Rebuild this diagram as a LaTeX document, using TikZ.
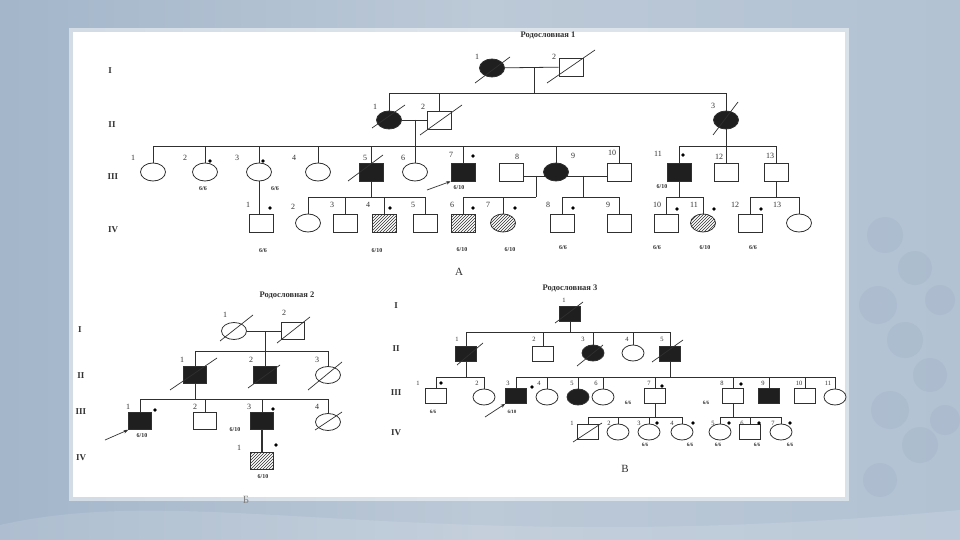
\documentclass[tikz,border=0pt]{standalone}
\usepackage{fontspec}
\setmainfont{Liberation Serif}
\usetikzlibrary{shapes.geometric,patterns,calc,arrows.meta}
\pgfdeclarelayer{back}
\pgfdeclarelayer{bg}
\pgfsetlayers{back,bg,main}
\definecolor{ink}{HTML}{303030}
\definecolor{bgl}{HTML}{A3B6CA}
\definecolor{bgm}{HTML}{BCC9D7}
\definecolor{bgr}{HTML}{B2C2D3}
\definecolor{sph}{HTML}{97A9BF}
\newcommand\strikeln[5]{\draw[strk] ($(#1)+(#2,#3)$) -- ($(#1)+(#4,#5)$);}
\tikzset{
 pers/.style={draw=ink, line width=0.8pt, fill=white, inner sep=0pt},
 ma/.style={pers, rectangle, minimum width=24pt, minimum height=18pt},
 fe/.style={pers, ellipse, minimum width=25pt, minimum height=18pt},
 aff/.style={fill=black!88},
 hat/.style={preaction={fill=white}, pattern=north east lines, pattern color=ink},
 num/.style={font=\fontsize{8}{8}\selectfont, text=ink, inner sep=0pt},
 gt/.style={font=\bfseries\fontsize{6}{6}\selectfont, text=ink, inner sep=0pt},
 gen/.style={font=\bfseries\fontsize{9}{9}\selectfont, text=ink, inner sep=0pt},
 ttl/.style={font=\bfseries\fontsize{8.5}{8.5}\selectfont, text=ink, inner sep=0pt},
 let/.style={font=\fontsize{11}{11}\selectfont, text=ink, inner sep=0pt},
 dotn/.style={circle, fill=black, inner sep=0pt, minimum size=3.6pt},
 rel/.style={draw=ink, line width=0.8pt},
 strk/.style={draw=ink, line width=0.7pt},
 prob/.style={draw=ink, line width=0.7pt, -{Stealth[length=4.5pt,width=3.5pt]}},
}
\begin{document}
\begin{tikzpicture}[x=1pt,y=-1pt]
\useasboundingbox (0,0) rectangle (960,540);
\begin{pgfonlayer}{back}
\shade[left color=bgl, right color=bgr, middle color=bgm] (0,0) rectangle (960,540);
\foreach \cx/\cy/\r in {885/235/18, 915/268/17, 878/305/19, 905/340/18, 930/375/17, 890/410/19, 920/445/18, 880/480/17, 940/300/15, 945/420/15}
  \fill[sph, opacity=0.22] (\cx,\cy) circle (\r);
\fill[white, opacity=0.12] (0,525) .. controls (200,480) and (420,560) .. (960,510) -- (960,540) -- (0,540) -- cycle;
\fill[white, opacity=0.5] (69,28) rectangle (849,501);
\fill[white] (73,32) rectangle (845,497);
\end{pgfonlayer}

% ================= Pedigree 1 =================
\node[ttl] (At) at (548,35) {Родословная 1};
\node[gen] (AgI) at (110,71) {I};
\node[gen] (AgII) at (112,125) {II};
\node[gen] (AgIII) at (113,177) {III};
\node[gen] (AgIV) at (113,230) {IV};

\node[fe,aff] (AI1) at (492,68) {};
\node[ma] (AI2) at (571,67) {};
\node[fe,aff] (AII1) at (389,120) {};
\node[ma] (AII2) at (439,120) {};
\node[fe,aff] (AII3) at (726,120) {};
\node[fe] (AIII1) at (153,172) {};
\node[fe] (AIII2) at (205,172) {};
\node[fe] (AIII3) at (259,172) {};
\node[fe] (AIII4) at (318,172) {};
\node[ma,aff] (AIII5) at (371,172) {};
\node[fe] (AIII6) at (415,172) {};
\node[ma,aff] (AIII7) at (463,172) {};
\node[ma] (AIII8) at (511,172) {};
\node[fe,aff] (AIII9) at (556,172) {};
\node[ma] (AIII10) at (619,172) {};
\node[ma,aff] (AIII11) at (679,172) {};
\node[ma] (AIII12) at (726,172) {};
\node[ma] (AIII13) at (776,172) {};
\node[ma] (AIV1) at (261,223) {};
\node[fe] (AIV2) at (308,223) {};
\node[ma] (AIV3) at (345,223) {};
\node[ma,hat] (AIV4) at (384,223) {};
\node[ma] (AIV5) at (425,223) {};
\node[ma,hat] (AIV6) at (463,223) {};
\node[fe,hat] (AIV7) at (503,223) {};
\node[ma] (AIV8) at (562,223) {};
\node[ma] (AIV9) at (619,223) {};
\node[ma] (AIV10) at (666,223) {};
\node[fe,hat] (AIV11) at (703,223) {};
\node[ma] (AIV12) at (750,223) {};
\node[fe] (AIV13) at (799,223) {};

\coordinate (AmI) at (534,68);
\coordinate (AsI) at (534,93);
\coordinate (AmII) at (415,120);
\coordinate (AsIII) at (415,146);
\coordinate (AsIIIb) at (726,146);
\coordinate (AsIVa) at (371,197);
\coordinate (AmIIIa) at (536,176);
\coordinate (AsIVb) at (536,197);
\coordinate (AmIIIb) at (583,176);
\coordinate (AsIVc) at (583,197);
\coordinate (AsIVd) at (679,197);
\coordinate (AsIVe) at (776,197);
\coordinate (AarT) at (427,190);

\begin{pgfonlayer}{bg}
\draw[rel] (AI1) -- (AI2);
\draw[rel] (AmI) -- (AsI);
\draw[rel] (AII1 |- AsI) -- (AII3 |- AsI);
\foreach \n in {AII1,AII2,AII3} \draw[rel] (\n) -- (\n |- AsI);
\draw[rel] (AII1) -- (AII2);
\draw[rel] (AmII) -- (AsIII);
\draw[rel] (AIII1 |- AsIII) -- (AIII10 |- AsIII);
\foreach \n in {AIII1,AIII2,AIII3,AIII4,AIII5,AIII6,AIII7,AIII9,AIII10} \draw[rel] (\n) -- (\n |- AsIII);
\draw[rel] (AII3) -- (AsIIIb);
\draw[rel] (AIII11 |- AsIIIb) -- (AIII13 |- AsIIIb);
\foreach \n in {AIII11,AIII12,AIII13} \draw[rel] (\n) -- (\n |- AsIIIb);
\draw[rel] (AIII3) -- (AIII3 |- AIV1);
\draw[rel] (AIII5) -- (AsIVa);
\draw[rel] (AIV2 |- AsIVa) -- (AIV5 |- AsIVa);
\foreach \n in {AIV2,AIV3,AIV4,AIV5} \draw[rel] (\n) -- (\n |- AsIVa);
\draw[rel] (AIII8 |- AmIIIa) -- (AIII9 |- AmIIIa);
\draw[rel] (AmIIIa) -- (AsIVb);
\draw[rel] (AIV6 |- AsIVb) -- (AsIVb);
\foreach \n in {AIV6,AIV7} \draw[rel] (\n) -- (\n |- AsIVb);
\draw[rel] (AIII9 |- AmIIIb) -- (AIII10 |- AmIIIb);
\draw[rel] (AmIIIb) -- (AsIVc);
\draw[rel] (AIV8 |- AsIVc) -- (AIV9 |- AsIVc);
\foreach \n in {AIV8,AIV9} \draw[rel] (\n) -- (\n |- AsIVc);
\draw[rel] (AIII11) -- (AsIVd);
\draw[rel] (AIV10 |- AsIVd) -- (AIV11 |- AsIVd);
\foreach \n in {AIV10,AIV11} \draw[rel] (\n) -- (\n |- AsIVd);
\draw[rel] (AIII13) -- (AsIVe);
\draw[rel] (AIV12 |- AsIVe) -- (AIV13 |- AsIVe);
\foreach \n in {AIV12,AIV13} \draw[rel] (\n) -- (\n |- AsIVe);
\end{pgfonlayer}

\strikeln{AI1}{-17}{15}{18}{-11}
\strikeln{AI2}{-24}{16}{24}{-17}
\strikeln{AII1}{-17}{8}{16}{-15}
\strikeln{AII2}{-19}{15}{23}{-15}
\strikeln{AII3}{-13}{15}{12}{-18}
\strikeln{AIII5}{-23}{9}{12}{-17}
\draw[prob] (AarT) -- (AIII7.south west);

\node[num] (AnI1) at (477,57) {1};
\node[num] (AnI2) at (554,57) {2};
\node[num] (AnII1) at (375,107) {1};
\node[num] (AnII2) at (423,107) {2};
\node[num] (AnII3) at (713,106) {3};
\node[num] (AnIII1) at (133,158) {1};
\node[num] (AnIII2) at (185,158) {2};
\node[num] (AnIII3) at (237,158) {3};
\node[num] (AnIII4) at (294,158) {4};
\node[num] (AnIII5) at (365,158) {5};
\node[num] (AnIII6) at (403,158) {6};
\node[num] (AnIII7) at (451,155) {7};
\node[num] (AnIII8) at (517,157) {8};
\node[num] (AnIII9) at (573,156) {9};
\node[num] (AnIII10) at (612,153) {10};
\node[num] (AnIII11) at (658,154) {11};
\node[num] (AnIII12) at (719,157) {12};
\node[num] (AnIII13) at (770,156) {13};
\node[num] (AnIV1) at (248,205) {1};
\node[num] (AnIV2) at (293,207) {2};
\node[num] (AnIV3) at (332,205) {3};
\node[num] (AnIV4) at (368,205) {4};
\node[num] (AnIV5) at (413,205) {5};
\node[num] (AnIV6) at (452,205) {6};
\node[num] (AnIV7) at (488,205) {7};
\node[num] (AnIV8) at (548,205) {8};
\node[num] (AnIV9) at (608,205) {9};
\node[num] (AnIV10) at (657,205) {10};
\node[num] (AnIV11) at (694,205) {11};
\node[num] (AnIV12) at (735,205) {12};
\node[num] (AnIV13) at (777,205) {13};

\node[dotn] (AdIII2) at (210,161) {};
\node[dotn] (AdIII3) at (263,161) {};
\node[dotn] (AdIII7) at (473,156) {};
\node[dotn] (AdIII11) at (683,155) {};
\node[dotn] (AdIV1) at (270,208) {};
\node[dotn] (AdIV4) at (390,208) {};
\node[dotn] (AdIV6) at (473,208) {};
\node[dotn] (AdIV7) at (515,208) {};
\node[dotn] (AdIV8) at (573,208) {};
\node[dotn] (AdIV10) at (677,209) {};
\node[dotn] (AdIV11) at (714,209) {};
\node[dotn] (AdIV12) at (761,209) {};

\node[gt] (AgIII2) at (203,189) {6/6};
\node[gt] (AgIII3) at (275,189) {6/6};
\node[gt] (AgIII7) at (459,188) {6/10};
\node[gt] (AgIII11) at (662,187) {6/10};
\node[gt] (AgIV1) at (263,251) {6/6};
\node[gt] (AgIV4) at (377,251) {6/10};
\node[gt] (AgIV6) at (462,250) {6/10};
\node[gt] (AgIV7) at (510,250) {6/10};
\node[gt] (AgIV8) at (563,248) {6/6};
\node[gt] (AgIV10) at (657,248) {6/6};
\node[gt] (AgIV11) at (705,248) {6/10};
\node[gt] (AgIV12) at (753,248) {6/6};
\node[let] (AL) at (459,272) {А};

% ================= Pedigree 2 =================
\begin{scope}[ma/.append style={minimum width=23pt, minimum height=17pt},
              fe/.append style={minimum width=25pt, minimum height=17pt}]
\node[ttl] (Bt) at (287,295) {Родословная 2};
\node[gen] (BgI) at (80,330) {I};
\node[gen] (BgII) at (81,376) {II};
\node[gen] (BgIII) at (81,412) {III};
\node[gen] (BgIV) at (81,458) {IV};

\node[fe] (BI1) at (234,331) {};
\node[ma] (BI2) at (293,331) {};
\node[ma,aff] (BII1) at (195,375) {};
\node[ma,aff] (BII2) at (265,375) {};
\node[fe] (BII3) at (328,375) {};
\node[ma,aff] (BIII1) at (140,421) {};
\node[ma] (BIII2) at (205,421) {};
\node[ma,aff] (BIII3) at (262,421) {};
\node[fe] (BIII4) at (328,422) {};
\node[ma,hat] (BIV1) at (262,461) {};

\coordinate (BmI) at (265,331);
\coordinate (BsII) at (265,351);
\coordinate (BsIII) at (195,399);
\coordinate (BarT) at (105,440);

\begin{pgfonlayer}{bg}
\draw[rel] (BI1) -- (BI2);
\draw[rel] (BmI) -- (BsII);
\draw[rel] (BII1 |- BsII) -- (BII3 |- BsII);
\foreach \n in {BII1,BII2,BII3} \draw[rel] (\n) -- (\n |- BsII);
\draw[rel] (BII1) -- (BsIII);
\draw[rel] (BIII1 |- BsIII) -- (BIII4 |- BsIII);
\foreach \n in {BIII1,BIII2,BIII3,BIII4} \draw[rel] (\n) -- (\n |- BsIII);
\draw[rel, line width=1.3pt] (BIII3) -- (BIV1);
\end{pgfonlayer}

\strikeln{BI1}{-14}{10}{19}{-16}
\strikeln{BI2}{-16}{12}{17}{-14}
\strikeln{BII1}{-25}{15}{22}{-17}
\strikeln{BII2}{-17}{13}{15}{-10}
\strikeln{BII3}{-20}{15}{14}{-13}
\strikeln{BIII4}{-13}{8}{14}{-10}
\draw[prob] (BarT) -- (BIII1.south west);

\node[num] (BnI1) at (225,315) {1};
\node[num] (BnI2) at (284,313) {2};
\node[num] (BnII1) at (182,360) {1};
\node[num] (BnII2) at (251,360) {2};
\node[num] (BnII3) at (317,360) {3};
\node[num] (BnIII1) at (128,407) {1};
\node[num] (BnIII2) at (195,407) {2};
\node[num] (BnIII3) at (249,407) {3};
\node[num] (BnIII4) at (317,407) {4};
\node[num] (BnIV1) at (239,448) {1};
\node[dotn] (BdIII1) at (155,410) {};
\node[dotn] (BdIII3) at (273,409) {};
\node[dotn] (BdIV1) at (276,445) {};
\node[gt] (BgtIII1) at (142,436) {6/10};
\node[gt] (BgtIII3) at (235,430) {6/10};
\node[gt] (BgtIV1) at (263,477) {6/10};
\node[let, text=ink!60] (BL) at (246,500) {Б};
\end{scope}

% ================= Pedigree 3 =================
\begin{scope}[ma/.append style={minimum width=21pt, minimum height=15pt},
              fe/.append style={minimum width=22pt, minimum height=16pt},
              num/.append style={font=\fontsize{6.5}{6.5}\selectfont},
              gt/.append style={font=\bfseries\fontsize{5}{5}\selectfont}]
\node[ttl] (Ct) at (570,288) {Родословная 3};
\node[gen] (CgI) at (396,306) {I};
\node[gen] (CgII) at (396,349) {II};
\node[gen] (CgIII) at (396,393) {III};
\node[gen] (CgIV) at (396,433) {IV};

\node[ma,aff] (CI1) at (570,314) {};
\node[ma,aff] (CII1) at (466,354) {};
\node[ma] (CII2) at (543,354) {};
\node[fe,aff] (CII3) at (593,353) {};
\node[fe] (CII4) at (633,353) {};
\node[ma,aff] (CII5) at (670,354) {};
\node[ma] (CIII1) at (436,396) {};
\node[fe] (CIII2) at (484,397) {};
\node[ma,aff] (CIII3) at (516,396) {};
\node[fe] (CIII4) at (547,397) {};
\node[fe,aff] (CIII5) at (578,397) {};
\node[fe] (CIII6) at (603,397) {};
\node[ma] (CIII7) at (655,396) {};
\node[ma] (CIII8) at (733,396) {};
\node[ma,aff] (CIII9) at (769,396) {};
\node[ma] (CIII10) at (805,396) {};
\node[fe] (CIII11) at (835,397) {};
\node[ma] (CIV1) at (588,432) {};
\node[fe] (CIV2) at (618,432) {};
\node[fe] (CIV3) at (649,432) {};
\node[fe] (CIV4) at (682,432) {};
\node[fe] (CIV5) at (720,432) {};
\node[ma] (CIV6) at (750,432) {};
\node[fe] (CIV7) at (781,432) {};

\coordinate (CsII) at (570,332);
\coordinate (CsIIIa) at (466,377);
\coordinate (CsIIIb) at (670,377);
\coordinate (CsIVa) at (655,417);
\coordinate (CsIVb) at (733,417);
\coordinate (CarT) at (485,417);

\begin{pgfonlayer}{bg}
\draw[rel] (CI1) -- (CsII);
\draw[rel] (CII1 |- CsII) -- (CII5 |- CsII);
\foreach \n in {CII1,CII2,CII3,CII4,CII5} \draw[rel] (\n) -- (\n |- CsII);
\draw[rel] (CII1) -- (CsIIIa);
\draw[rel] (CIII1 |- CsIIIa) -- (CIII2 |- CsIIIa);
\foreach \n in {CIII1,CIII2} \draw[rel] (\n) -- (\n |- CsIIIa);
\draw[rel] (CII5) -- (CsIIIb);
\draw[rel] (CIII3 |- CsIIIb) -- (CIII11 |- CsIIIb);
\foreach \n in {CIII3,CIII4,CIII5,CIII6,CIII7,CIII8,CIII9,CIII10,CIII11} \draw[rel] (\n) -- (\n |- CsIIIb);
\draw[rel] (CIII7) -- (CsIVa);
\draw[rel] (CIV1 |- CsIVa) -- (CIV4 |- CsIVa);
\foreach \n in {CIV1,CIV2,CIV3,CIV4} \draw[rel] (\n) -- (\n |- CsIVa);
\draw[rel] (CIII8) -- (CsIVb);
\draw[rel] (CIV5 |- CsIVb) -- (CIV7 |- CsIVb);
\foreach \n in {CIV5,CIV6,CIV7} \draw[rel] (\n) -- (\n |- CsIVb);
\end{pgfonlayer}

\strikeln{CI1}{-15}{9}{13}{-12}
\strikeln{CII1}{-9}{11}{17}{-11}
\strikeln{CII3}{-16}{13}{10}{-8}
\strikeln{CII5}{-18}{8}{13}{-14}
\strikeln{CIV1}{-15}{10}{14}{-9}
\draw[prob] (CarT) -- (CIII3.south west);

\node[num] (CnI1) at (564,300) {1};
\node[num] (CnII1) at (457,339) {1};
\node[num] (CnII2) at (534,339) {2};
\node[num] (CnII3) at (583,339) {3};
\node[num] (CnII4) at (627,339) {4};
\node[num] (CnII5) at (662,339) {5};
\node[num] (CnIII1) at (418,383) {1};
\node[num] (CnIII2) at (477,383) {2};
\node[num] (CnIII3) at (508,383) {3};
\node[num] (CnIII4) at (539,383) {4};
\node[num] (CnIII5) at (572,383) {5};
\node[num] (CnIII6) at (596,383) {6};
\node[num] (CnIII7) at (649,383) {7};
\node[num] (CnIII8) at (722,383) {8};
\node[num] (CnIII9) at (763,383) {9};
\node[num] (CnIII10) at (799,383) {10};
\node[num] (CnIII11) at (828,383) {11};
\node[num] (CnIV1) at (572,423) {1};
\node[num] (CnIV2) at (609,423) {2};
\node[num] (CnIV3) at (639,423) {3};
\node[num] (CnIV4) at (672,423) {4};
\node[num] (CnIV5) at (713,423) {5};
\node[num] (CnIV6) at (742,423) {6};
\node[num] (CnIV7) at (773,423) {7};

\node[dotn] (CdIII1) at (441,383) {};
\node[dotn] (CdIII3) at (532,387) {};
\node[dotn] (CdIII7) at (662,386) {};
\node[dotn] (CdIII8) at (741,384) {};
\node[dotn] (CdIV3) at (657,423) {};
\node[dotn] (CdIV4) at (693,423) {};
\node[dotn] (CdIV5) at (729,423) {};
\node[dotn] (CdIV6) at (759,423) {};
\node[dotn] (CdIV7) at (790,423) {};

\node[gt] (CgtIII1) at (433,412) {6/6};
\node[gt] (CgtIII3) at (512,412) {6/10};
\node[gt] (CgtIII7) at (628,403) {6/6};
\node[gt] (CgtIII8) at (706,403) {6/6};
\node[gt] (CgtIV3) at (645,445) {6/6};
\node[gt] (CgtIV4) at (690,445) {6/6};
\node[gt] (CgtIV5) at (718,445) {6/6};
\node[gt] (CgtIV6) at (757,445) {6/6};
\node[gt] (CgtIV7) at (790,445) {6/6};
\node[let] (CL) at (625,469) {В};
\end{scope}
\end{tikzpicture}
\end{document}
